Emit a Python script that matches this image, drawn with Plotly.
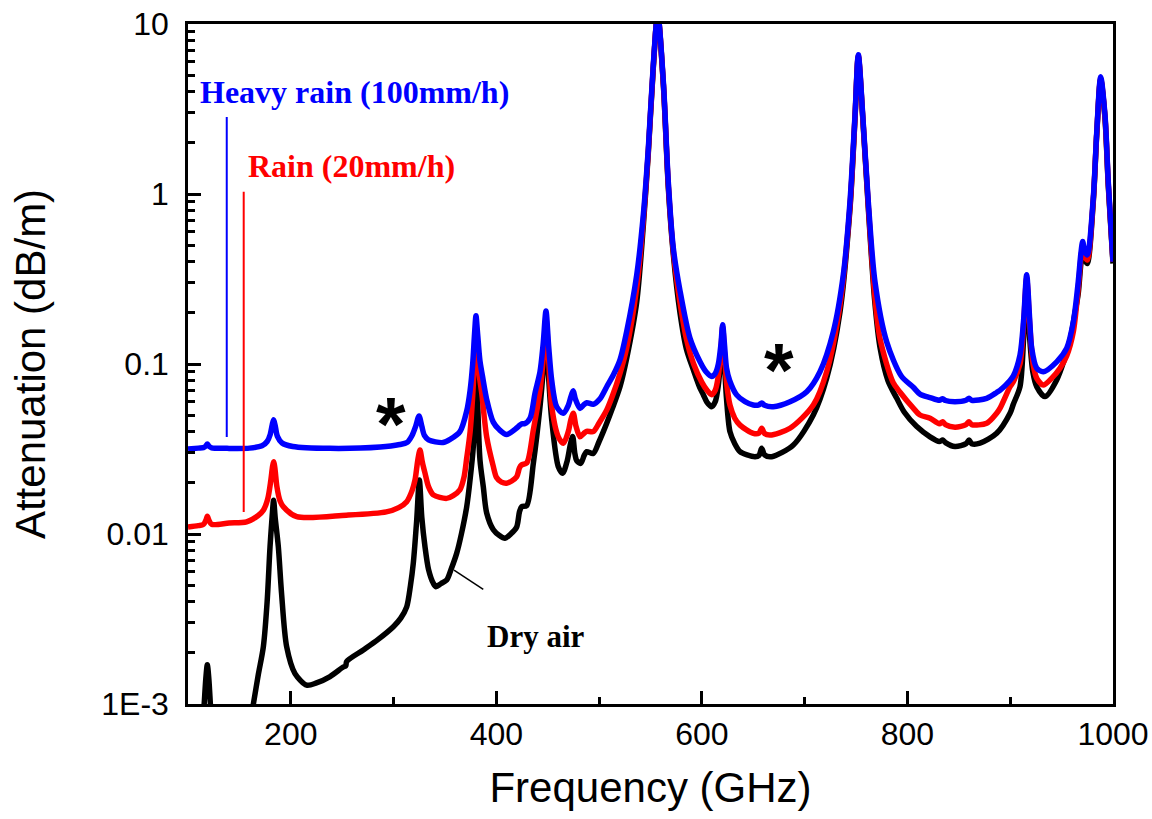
import math
import plotly.graph_objects as go

# Frequency (GHz) and specific attenuation (dB/m) for each atmosphere condition
dry_f = [100, 108, 113, 115.5, 117.3, 118.8, 120.3, 122, 124.5, 130, 145, 155, 160, 163.6,
         168.5, 173.3, 177, 179.8, 181.8, 183.3, 184.8, 187.9, 191, 196, 204.1, 215.5, 225,
         238.2, 251, 253.5, 254.4, 270.6, 285, 299.8, 307, 312.8, 316.5, 319.2, 322.5, 325.1,
         327.5, 330.6, 334, 338.7, 341.3, 346, 351.7, 356, 361.4, 366, 371.2, 374.5, 377.6,
         379, 380.2, 381.5, 384.1, 387.3, 390.6, 397.1, 403, 408.4, 414, 419.8, 422.5, 424.7,
         429.6, 436, 442.5, 445.8, 448.3, 450.8, 453.9, 460.3, 464.6, 469, 472, 474.3, 476.3,
         478.2, 482.1, 485.5, 487.9, 494.3, 500, 504.1, 507.4, 513, 520.3, 526.8, 536.6, 543,
         547.9, 552.7, 557, 562.5, 567.3, 572.2, 578.7, 585, 591.8, 598.2, 601.4, 605, 609.5,
         613, 616, 618.5, 620.2, 622, 624, 627.3, 632, 637.1, 644, 651.7, 655.5, 658.2, 661,
         667.9, 689, 708.4, 721.4, 734.4, 744.1, 749, 752.2, 756.5, 761.9, 768, 773.4, 781,
         789.6, 797, 808.8, 822, 831, 834.3, 837, 846.3, 857, 859.9, 862.5, 870.6, 886.8,
         899.8, 903, 909.5, 913, 916, 919, 922, 925.8, 933.8, 945.2, 958.2, 963, 966.2, 968.8,
         970.5, 972.5, 975, 980.8, 984.2, 988, 992.2, 995.4, 1000]
dry_a = [0.0003, 0.0004, 0.0006, 0.00095, 0.0014, 0.0017, 0.0014, 0.00095, 0.0006, 0.0004,
         0.00035, 0.0005, 0.00075, 0.001, 0.0015, 0.00217, 0.004, 0.0084, 0.0125, 0.0158,
         0.0125, 0.0084, 0.0045, 0.00217, 0.00151, 0.00129, 0.00133, 0.00145, 0.00165,
         0.00168, 0.00178, 0.00208, 0.0024, 0.00285, 0.0032, 0.00373, 0.005, 0.00673, 0.012,
         0.0208, 0.0125, 0.0084, 0.0062, 0.00513, 0.0049, 0.0051, 0.00536, 0.0062, 0.00769,
         0.01, 0.0145, 0.021, 0.0327, 0.06, 0.15, 0.07, 0.0272, 0.019, 0.0133, 0.0106, 0.0098,
         0.00944, 0.01, 0.011, 0.0135, 0.0145, 0.0147, 0.026, 0.0561, 0.095, 0.16, 0.085,
         0.0469, 0.0249, 0.0228, 0.027, 0.0335, 0.0375, 0.03, 0.027, 0.026, 0.029, 0.0305,
         0.0298, 0.035, 0.04, 0.0448, 0.055, 0.0735, 0.108, 0.232, 0.65, 1.75, 5.5, 11.5, 4.4,
         1.1, 0.44, 0.2, 0.122, 0.092, 0.072, 0.066, 0.0595, 0.0561, 0.06, 0.075, 0.11, 0.15,
         0.1, 0.062, 0.04, 0.034, 0.0305, 0.0292, 0.0285, 0.029, 0.0319, 0.0292, 0.0285,
         0.0334, 0.0501, 0.0824, 0.203, 0.82, 2.8, 6.4, 2.8, 0.83, 0.24, 0.124, 0.08, 0.0628,
         0.052, 0.043, 0.0373, 0.035, 0.0357, 0.0345, 0.0327, 0.034, 0.0357, 0.034, 0.0342,
         0.0391, 0.0513, 0.058, 0.0735, 0.14, 0.3, 0.14, 0.09, 0.0735, 0.0643, 0.0805, 0.138,
         0.2, 0.26, 0.39, 0.45, 0.41, 0.39, 0.9, 2.25, 4.7, 2.8, 1.12, 0.39]

rain_f = [100, 110, 115, 117.5, 118.8, 120.5, 123, 140, 157, 168, 173.3, 177.5, 180.5, 182.3,
          183.3, 184.5, 186.5, 189.5, 192.7, 205.8, 254, 293, 305, 312.8, 318, 320.9, 323.5,
          325.7, 328, 330.6, 334, 338.7, 351.7, 358, 364.6, 368.5, 371.2, 374.5, 377, 378.8,
          380.2, 381.8, 383.5, 385.8, 390.6, 397.1, 400.2, 405, 410, 415, 419.8, 422.5, 424.5,
          429.6, 436, 442.5, 445.8, 448.3, 450.8, 453.9, 460.3, 465.2, 470, 472.5, 474.9,
          477.5, 481.4, 485, 487.9, 494.3, 500, 507.4, 513, 520.3, 526.8, 536.6, 543, 547.9,
          552.7, 557, 562.5, 567.3, 572.2, 578.7, 585, 592, 600, 605, 609.5, 613, 616, 618.5,
          620.2, 622, 624, 627.3, 632, 637.1, 650, 655.5, 658.2, 661, 666.3, 685.7, 708.4,
          721.4, 734.4, 744.1, 749, 752.2, 756.5, 761.9, 768, 773.4, 786, 793, 805.7, 812.2,
          822, 831, 834.3, 837, 846.3, 857, 859.9, 862.5, 877.1, 886.8, 890, 899.8, 903, 909.5,
          913, 916, 919, 922.4, 926, 932.2, 940, 948.4, 955, 961.4, 966.2, 968.8, 970.5, 972.5,
          975, 980.8, 984.2, 988, 992.2, 995.4, 1000]
rain_a = [0.011, 0.0112, 0.0114, 0.0121, 0.0127, 0.012, 0.0114, 0.0116, 0.0118, 0.0128,
          0.0138, 0.016, 0.0205, 0.025, 0.0266, 0.0245, 0.019, 0.0157, 0.0145, 0.01265, 0.0129,
          0.0135, 0.0143, 0.0155, 0.018, 0.0208, 0.027, 0.0312, 0.0265, 0.0228, 0.019, 0.017,
          0.0162, 0.0168, 0.0182, 0.0215, 0.028, 0.04, 0.065, 0.11, 0.17, 0.115, 0.085, 0.0673,
          0.0373, 0.0249, 0.0215, 0.0202, 0.0199, 0.0205, 0.0217, 0.0245, 0.0255, 0.0262,
          0.0409, 0.0703, 0.11, 0.185, 0.11, 0.0561, 0.0373, 0.0342, 0.04, 0.047, 0.0513, 0.043,
          0.0373, 0.039, 0.0402, 0.04, 0.045, 0.0536, 0.065, 0.088, 0.124, 0.28, 0.7, 1.8, 5.6,
          11.5, 4.45, 1.14, 0.46, 0.23, 0.14, 0.1, 0.078, 0.07, 0.066, 0.07, 0.085, 0.12, 0.165,
          0.115, 0.078, 0.0574, 0.048, 0.0437, 0.0391, 0.0392, 0.0419, 0.039, 0.0382, 0.0419,
          0.0574, 0.0901, 0.222, 0.85, 2.85, 6.5, 2.85, 0.86, 0.26, 0.14, 0.078, 0.068, 0.055,
          0.0501, 0.048, 0.0445, 0.0458, 0.044, 0.0425, 0.044, 0.0458, 0.044, 0.0448, 0.0513,
          0.0548, 0.0735, 0.0787, 0.1, 0.17, 0.32, 0.17, 0.0986, 0.082, 0.0752, 0.082, 0.0944,
          0.112, 0.155, 0.28, 0.42, 0.48, 0.43, 0.409, 0.92, 2.28, 4.8, 2.85, 1.15, 0.4]

heavy_f = [100, 110, 115, 117.5, 118.8, 120.5, 123, 138, 160, 172, 177, 180, 182, 183.3,
           184.8, 187, 191.5, 202, 238, 287, 306, 313, 318, 321.5, 324.8, 327.5, 330, 334,
           348, 355, 364.6, 371.2, 374.5, 377, 378.8, 380.2, 381.8, 384, 386.5, 390.6, 397,
           403, 410, 419.8, 422.5, 424.7, 427.5, 432.8, 437.6, 442.5, 445.5, 448.3, 450.8,
           453.9, 458.7, 465, 470, 472.5, 474.8, 477, 481.4, 485, 488, 494.3, 500.9, 507.4,
           513.8, 520.3, 526.8, 536.6, 543, 547.9, 552.7, 557, 562.5, 567.3, 572.2, 578.7,
           588.4, 598.2, 604, 609.5, 613, 616, 618.5, 620.2, 622, 624, 627, 633.8, 642, 650,
           655.5, 658.2, 661, 669.5, 685.7, 702, 714.9, 727.9, 737.6, 744.1, 749, 752.2, 756.5,
           761.9, 768.4, 779.8, 794, 805.7, 812.2, 822, 831, 834.3, 837, 846.3, 857, 859.9,
           862.5, 877.1, 886.8, 890, 899.8, 903, 909.5, 913, 916, 919, 920.9, 925.8, 932.2,
           945.2, 955, 961.4, 966.2, 968.8, 970.5, 972.5, 975, 980.8, 984.2, 988, 992.2, 995.4,
           1000]
heavy_a = [0.0316, 0.032, 0.0322, 0.033, 0.0338, 0.0328, 0.0321, 0.0319, 0.032, 0.033, 0.035,
           0.0385, 0.044, 0.047, 0.0435, 0.0375, 0.0343, 0.0327, 0.0319, 0.0325, 0.0336,
           0.0345, 0.038, 0.043, 0.0495, 0.043, 0.038, 0.0358, 0.0345, 0.036, 0.04, 0.053,
           0.07, 0.1, 0.15, 0.192, 0.15, 0.105, 0.085, 0.062, 0.0455, 0.041, 0.0385, 0.042,
           0.0435, 0.0445, 0.0445, 0.048, 0.0673, 0.09, 0.13, 0.205, 0.13, 0.08, 0.056, 0.0513,
           0.057, 0.064, 0.0695, 0.062, 0.0548, 0.0575, 0.0592, 0.058, 0.0625, 0.0735, 0.0861,
           0.1057, 0.155, 0.334, 0.752, 1.86, 5.74, 11.5, 4.58, 1.18, 0.48, 0.27, 0.142, 0.103,
           0.09, 0.0845, 0.088, 0.1, 0.13, 0.17, 0.13, 0.0944, 0.08, 0.0658, 0.06, 0.0574,
           0.0575, 0.059, 0.0572, 0.0561, 0.06, 0.0687, 0.0901, 0.155, 0.334, 0.902, 2.92, 6.6,
           2.92, 0.902, 0.305, 0.135, 0.085, 0.073, 0.0665, 0.0635, 0.0612, 0.0625, 0.061,
           0.06, 0.0612, 0.0628, 0.0612, 0.0628, 0.068, 0.07, 0.08, 0.085, 0.113, 0.18, 0.335,
           0.18, 0.124, 0.0944, 0.0901, 0.103, 0.124, 0.177, 0.305, 0.45, 0.525, 0.46, 0.438,
           0.944, 2.32, 4.9, 2.92, 1.18, 0.4]

x_ticks = [200, 400, 600, 800, 1000]
x_minor = [300, 500, 700, 900]
y_ticks = [0.001, 0.01, 0.1, 1, 10]
y_ticktext = ["1E-3", "0.01", "0.1", "1", "10"]
y_minor = [m * 10.0 ** e for e in range(-3, 1) for m in range(2, 10)]

SERIF = "Liberation Serif, Times New Roman, serif"
SANS = "Liberation Sans, Arial, sans-serif"
BLUE = "#0000ff"
RED = "#ff0000"

fig = go.Figure()
for f, a, c in [(dry_f, dry_a, "#000000"), (rain_f, rain_a, RED), (heavy_f, heavy_a, BLUE)]:
    fig.add_trace(go.Scatter(x=f, y=a, mode="lines",
                             line=dict(color=c, width=5.5, shape="spline", smoothing=0.8),
                             showlegend=False, hoverinfo="skip"))

# leader lines tying each label to its curve
fig.add_trace(go.Scatter(x=[137.7, 137.7], y=[0.0372, 2.84], mode="lines",
                         line=dict(color=BLUE, width=2), showlegend=False))
fig.add_trace(go.Scatter(x=[154.2, 154.2], y=[0.01345, 1.03], mode="lines",
                         line=dict(color=RED, width=2), showlegend=False))
fig.add_trace(go.Scatter(x=[358.8, 387.3], y=[0.00614, 0.00473], mode="lines",
                         line=dict(color="#000000", width=1.5), showlegend=False))

def label(text, x, logy, color, size, family, xanchor="left"):
    fig.add_annotation(x=x, y=logy, xref="x", yref="y", text=text, showarrow=False,
                       xanchor=xanchor, yanchor="middle",
                       font=dict(family=family, size=size, color=color))

label("<b>Heavy rain (100mm/h)</b>", 110.2, 0.598, BLUE, 32, SERIF)
label("<b>Rain (20mm/h)</b>", 156.6, 0.165, RED, 32, SERIF)
label("<b>Dry air</b>", 389.0, -2.603, "#000000", 31, SERIF)
label("<b>*</b>", 297.5, -1.35, "#000000", 76, SANS, xanchor="center")
label("<b>*</b>", 675.0, -1.035, "#000000", 76, SANS, xanchor="center")

axis_common = dict(showline=True, linecolor="#000000", linewidth=2.5, mirror=True,
                   ticks="inside", tickcolor="#000000", tickwidth=2.5, ticklen=13,
                   showgrid=False, zeroline=False, automargin=False,
                   tickfont=dict(family=SANS, size=32, color="#000000"))

fig.update_xaxes(range=[100, 1000], tickvals=x_ticks, ticklabelstandoff=0,
                 minor=dict(tickvals=x_minor, ticks="inside", ticklen=7, tickwidth=2.5,
                            tickcolor="#000000"),
                 title=dict(text="Frequency (GHz)", standoff=22,
                            font=dict(family=SANS, size=42, color="#000000")),
                 **axis_common)
fig.update_yaxes(type="log", range=[-3, 1], tickvals=y_ticks, ticktext=y_ticktext,
                 ticklabelstandoff=10,
                 minor=dict(tickvals=y_minor, ticks="inside", ticklen=7, tickwidth=2.5,
                            tickcolor="#000000"),
                 title=dict(text="Attenuation (dB/m)", standoff=43,
                            font=dict(family=SANS, size=42, color="#000000")),
                 **axis_common)

fig.update_layout(width=1152, height=819, plot_bgcolor="#ffffff", paper_bgcolor="#ffffff",
                  margin=dict(l=188, r=39, t=24, b=115))

fig.write_html("out.html")
